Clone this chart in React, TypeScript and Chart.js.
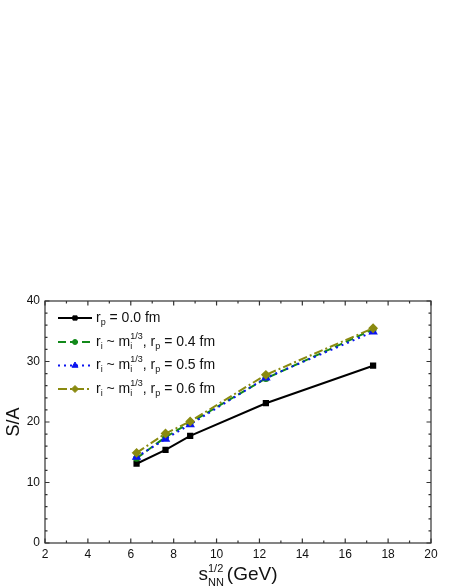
import React, { useEffect, useRef } from "react";
import { Chart, registerables } from "chart.js";
import { drawPoint } from "chart.js/helpers";

Chart.register(...registerables);

const xValues = [6.27, 7.62, 8.77, 12.3, 17.3];
const sA_rp00 = [13.1, 15.4, 17.7, 23.1, 29.3];
const sA_rp04 = [14.0, 17.5, 19.9, 27.2, 35.3];
const sA_rp05 = [14.2, 17.2, 19.6, 27.3, 34.9];
const sA_rp06 = [14.9, 18.1, 20.1, 27.8, 35.5];

const xTicks = [2, 4, 6, 8, 10, 12, 14, 16, 18, 20];
const yTicks = [0, 10, 20, 30, 40];
const xMinor = [3, 5, 7, 9, 11, 13, 15, 17, 19];
const yMinor = [2, 4, 6, 8, 12, 14, 16, 18, 22, 24, 26, 28, 32, 34, 36, 38];

const legendValues = ["0.0", "0.4", "0.5", "0.6"];

const FONT = '"Liberation Sans", Arial, sans-serif';

type Part = { t?: string; sub?: string; sup?: string; gap?: number };

function drawRich(ctx: CanvasRenderingContext2D, x: number, y: number, parts: Part[], size: number, small: number, draw = true): number {
  let cx = x;
  for (const p of parts) {
    if (p.gap !== undefined) {
      cx += p.gap;
    } else if (p.t !== undefined) {
      ctx.font = `${size}px ${FONT}`;
      if (draw) ctx.fillText(p.t, cx, y);
      cx += ctx.measureText(p.t).width;
    } else {
      ctx.font = `${small}px ${FONT}`;
      let w = 0;
      if (p.sup !== undefined) {
        if (draw) ctx.fillText(p.sup, cx, y - size * 0.42);
        w = Math.max(w, ctx.measureText(p.sup).width);
      }
      if (p.sub !== undefined) {
        if (draw) ctx.fillText(p.sub, cx, y + size * 0.3);
        w = Math.max(w, ctx.measureText(p.sub).width);
      }
      cx += w;
    }
  }
  return cx - x;
}

const decorPlugin = {
  id: "decor",
  afterDraw(chart: any) {
    const ctx: CanvasRenderingContext2D = chart.ctx;
    const xs = chart.scales.x;
    const ys = chart.scales.y;
    const { left, right, top, bottom } = chart.chartArea;
    ctx.save();
    ctx.strokeStyle = "#333";
    ctx.lineWidth = 1.2;
    ctx.strokeRect(left, top, right - left, bottom - top);
    ctx.beginPath();
    const maj = 4.5, mn = 2.5;
    for (const v of xTicks) {
      const px = xs.getPixelForValue(v);
      ctx.moveTo(px, bottom); ctx.lineTo(px, bottom - maj);
      ctx.moveTo(px, top); ctx.lineTo(px, top + maj);
    }
    for (const v of xMinor) {
      const px = xs.getPixelForValue(v);
      ctx.moveTo(px, bottom); ctx.lineTo(px, bottom - mn);
      ctx.moveTo(px, top); ctx.lineTo(px, top + mn);
    }
    for (const v of yTicks) {
      const py = ys.getPixelForValue(v);
      ctx.moveTo(left, py); ctx.lineTo(left + maj, py);
      ctx.moveTo(right, py); ctx.lineTo(right - maj, py);
    }
    for (const v of yMinor) {
      const py = ys.getPixelForValue(v);
      ctx.moveTo(left, py); ctx.lineTo(left + mn, py);
      ctx.moveTo(right, py); ctx.lineTo(right - mn, py);
    }
    ctx.stroke();

    ctx.fillStyle = "#111";
    ctx.font = `12px ${FONT}`;
    ctx.textAlign = "center";
    ctx.textBaseline = "alphabetic";
    for (const v of xTicks) {
      ctx.fillText(String(v), xs.getPixelForValue(v), bottom + 15);
    }
    ctx.textAlign = "right";
    ctx.textBaseline = "middle";
    for (const v of yTicks) {
      ctx.fillText(String(v), left - 5, ys.getPixelForValue(v));
    }

    // y title
    ctx.save();
    ctx.translate(14, (top + bottom) / 2);
    ctx.rotate(-Math.PI / 2);
    ctx.textAlign = "center";
    ctx.textBaseline = "middle";
    ctx.font = `18px ${FONT}`;
    ctx.fillText("S/A", 0, 0);
    ctx.restore();

    // x title
    ctx.textAlign = "left";
    ctx.textBaseline = "alphabetic";
    const xtParts: Part[] = [{ t: "s" }, { sup: "1/2", sub: "NN" }, { gap: 3 }, { t: "(GeV)" }];
    const tw = drawRich(ctx, 0, 0, xtParts, 19, 11, false);
    drawRich(ctx, (left + right) / 2 - tw / 2, bottom + 37, xtParts, 19, 11);

    // legend
    const ds = chart.data.datasets;
    const rowsY = [318, 342, 365.5, 389];
    for (let i = 0; i < 4; i++) {
      const d = ds[i];
      const y = rowsY[i];
      const x0 = left + 13, x1 = left + 47;
      ctx.save();
      ctx.strokeStyle = d.borderColor;
      ctx.lineWidth = d.borderWidth;
      ctx.setLineDash(d.borderDash || []);
      ctx.beginPath();
      ctx.moveTo(x0, y);
      ctx.lineTo(x1, y);
      ctx.stroke();
      ctx.restore();
      ctx.save();
      ctx.fillStyle = d.pointBackgroundColor;
      ctx.strokeStyle = d.pointBorderColor;
      ctx.lineWidth = 1;
      drawPoint(ctx, { pointStyle: d.pointStyle, radius: d.pointRadius, borderWidth: 1, rotation: 0 } as any, (x0 + x1) / 2, y);
      ctx.restore();
      ctx.fillStyle = "#111";
      ctx.textAlign = "left";
      ctx.textBaseline = "middle";
      const tx = x1 + 4;
      let parts: Part[];
      if (i === 0) {
        parts = [{ t: "r" }, { sub: "p" }, { t: ` = ${legendValues[i]} fm` }];
      } else {
        parts = [
          { t: "r" }, { sub: "i" }, { t: " ~ m" }, { sup: "1/3", sub: "i" },
          { t: ", r" }, { sub: "p" }, { t: ` = ${legendValues[i]} fm` },
        ];
      }
      drawRich(ctx, tx, y, parts, 14, 9);
    }
    ctx.restore();
  },
};

export default function App() {
  const ref = useRef<HTMLCanvasElement | null>(null);
  useEffect(() => {
    if (!ref.current) return;
    const mk = (ys: number[]) => xValues.map((x, i) => ({ x, y: ys[i] }));
    const chart = new Chart(ref.current, {
      type: "line",
      data: {
        datasets: [
          {
            label: "r_p = 0.0 fm",
            data: mk(sA_rp00),
            borderColor: "#000000",
            backgroundColor: "#000000",
            pointBackgroundColor: "#000000",
            pointBorderColor: "#000000",
            borderWidth: 2,
            pointStyle: "rect",
            pointRadius: 3,
            order: 4,
          },
          {
            label: "r_p = 0.4 fm",
            data: mk(sA_rp04),
            borderColor: "#12891a",
            backgroundColor: "#12891a",
            pointBackgroundColor: "#12891a",
            pointBorderColor: "#12891a",
            borderWidth: 2,
            borderDash: [8, 4],
            pointStyle: "circle",
            pointRadius: 2.5,
            order: 3,
          },
          {
            label: "r_p = 0.5 fm",
            data: mk(sA_rp05),
            borderColor: "#0a14f0",
            backgroundColor: "#0a14f0",
            pointBackgroundColor: "#0a14f0",
            pointBorderColor: "#0a14f0",
            borderWidth: 2,
            borderDash: [2, 4],
            pointStyle: "triangle",
            pointRadius: 3.5,
            order: 2,
          },
          {
            label: "r_p = 0.6 fm",
            data: mk(sA_rp06),
            borderColor: "#8a8a10",
            backgroundColor: "#8a8a10",
            pointBackgroundColor: "#8a8a10",
            pointBorderColor: "#8a8a10",
            borderWidth: 2,
            borderDash: [9, 3, 2, 3],
            pointStyle: "rectRot",
            pointRadius: 3.5,
            order: 1,
          },
        ] as any,
      },
      options: {
        animation: false,
        responsive: false,
        layout: { padding: { left: 45, right: 23, top: 301, bottom: 45 } },
        plugins: { legend: { display: false }, tooltip: { enabled: false } },
        scales: {
          x: { type: "linear", min: 2, max: 20, display: false },
          y: { type: "linear", min: 0, max: 40, display: false },
        },
      },
      plugins: [decorPlugin],
    });
    return () => chart.destroy();
  }, []);
  return (
    <div style={{ position: "absolute", left: 0, top: 0, width: 454, height: 588, background: "#fff" }}>
      <canvas ref={ref} width={454} height={588} style={{ width: 454, height: 588 }} />
    </div>
  );
}
